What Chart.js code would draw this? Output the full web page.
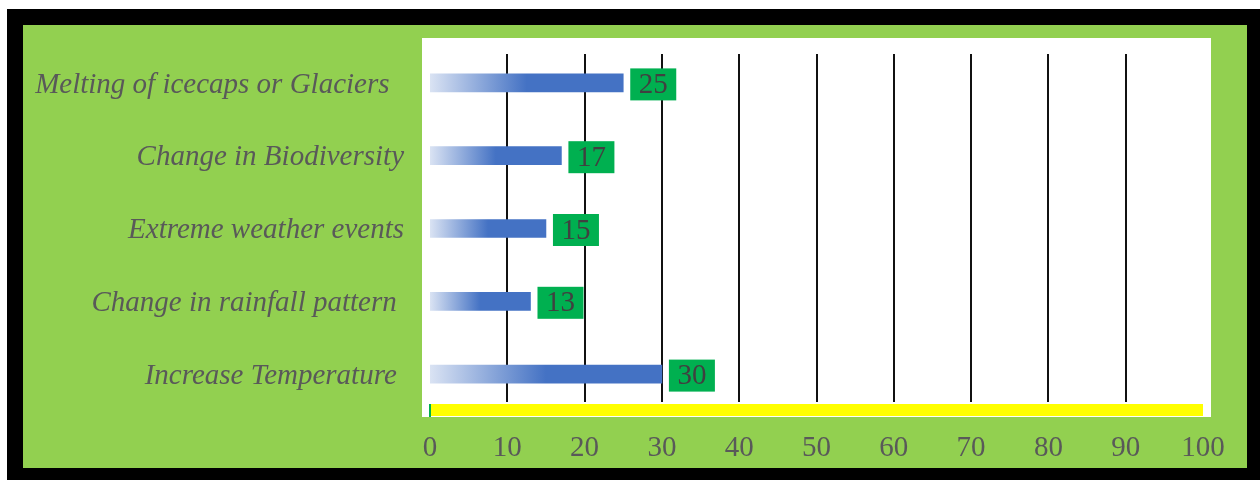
<!DOCTYPE html>
<html>
<head>
<meta charset="utf-8">
<script src="https://cdn.jsdelivr.net/npm/chart.js@4.4.1/dist/chart.umd.min.js"></script>
<style>
  html, body { margin: 0; padding: 0; background: #fff; }
  #wrap { position: relative; width: 1260px; height: 480px; }
</style>
</head>
<body>
<div id="wrap"><canvas id="barras" width="1260" height="480"></canvas></div>
<script>
// datos
const categorias = [
  'Melting of icecaps or Glaciers  ',
  'Change in Biodiversity',
  'Extreme weather events',
  'Change in rainfall pattern ',
  'Increase Temperature '
];
const valores = [25, 17, 15, 13, 30];
const ticksX = [0, 10, 20, 30, 40, 50, 60, 70, 80, 90, 100];

const AZUL = '#4472C4';
const AZUL_CLARO = '#DAE3F3';
const VERDE_FONDO = '#92D050';
const VERDE_ETIQ = '#00B050';
const FUENTE = '"Liberation Serif", "Times New Roman", serif';

// marco negro, panel verde y area blanca
const fondo = {
  id: 'fondo',
  beforeDraw(chart) {
    const ctx = chart.ctx;
    const a = chart.chartArea;
    ctx.save();
    ctx.fillStyle = '#fff';
    ctx.fillRect(0, 0, chart.width, chart.height);
    ctx.fillStyle = '#000';
    ctx.fillRect(7, 9, chart.width - 7, chart.height - 9);
    ctx.fillStyle = VERDE_FONDO;
    ctx.fillRect(23, 25, 1224, 443);
    ctx.fillStyle = '#fff';
    ctx.fillRect(a.left - 8, a.top - 8.5, a.right - a.left + 16, a.bottom - a.top + 15);
    ctx.restore();
  }
};

// lineas verticales y eje amarillo
const rejilla = {
  id: 'rejilla',
  beforeDatasetsDraw(chart) {
    const ctx = chart.ctx;
    const a = chart.chartArea;
    const x = chart.scales.x;
    ctx.save();
    ctx.strokeStyle = '#111';
    ctx.lineWidth = 2;
    ticksX.forEach(function (t) {
      if (t === 0 || t === 100) return;
      const px = Math.round(x.getPixelForValue(t));
      ctx.beginPath();
      ctx.moveTo(px, a.top + 7.5);
      ctx.lineTo(px, a.bottom - 8.5);
      ctx.stroke();
    });
    const x0 = x.getPixelForValue(0);
    const x1 = x.getPixelForValue(100);
    ctx.fillStyle = '#FFFF00';
    ctx.fillRect(x0, a.bottom - 6.5, x1 - x0, 12);
    ctx.fillStyle = VERDE_ETIQ;
    ctx.fillRect(x0 - 1, a.bottom - 6.5, 2, 13);
    ctx.restore();
  }
};

// etiquetas verdes con el valor
const etiquetas = {
  id: 'etiquetas',
  afterDatasetsDraw(chart) {
    const ctx = chart.ctx;
    const meta = chart.getDatasetMeta(0);
    ctx.save();
    ctx.font = '29px ' + FUENTE;
    ctx.textBaseline = 'middle';
    ctx.textAlign = 'center';
    meta.data.forEach(function (bar, i) {
      const txt = String(valores[i]);
      const w = ctx.measureText(txt).width + 17;
      const h = 32;
      const bx = bar.x + 7;
      const by = bar.y + 1.5 - h / 2;
      ctx.fillStyle = VERDE_ETIQ;
      ctx.fillRect(bx, by, w, h);
      ctx.fillStyle = '#404040';
      ctx.fillText(txt, bx + w / 2, by + h / 2 + 1);
    });
    ctx.restore();
  }
};

const barrasG = document.getElementById('barras');
new Chart(barrasG, {
  type: 'bar',
  data: {
    labels: categorias,
    datasets: [{
      data: valores,
      barThickness: 18,
      borderWidth: 0,
      backgroundColor: function (c) {
        const chart = c.chart;
        const x = chart.scales && chart.scales.x;
        if (!chart.chartArea || !x || c.dataIndex === undefined) return AZUL;
        const x0 = x.getPixelForValue(0);
        const x1 = x.getPixelForValue(valores[c.dataIndex]);
        const g = chart.ctx.createLinearGradient(x0, 0, x1, 0);
        g.addColorStop(0, AZUL_CLARO);
        g.addColorStop(0.5, AZUL);
        g.addColorStop(1, AZUL);
        return g;
      }
    }]
  },
  options: {
    indexAxis: 'y',
    responsive: false,
    animation: false,
    layout: { padding: { left: 23, right: 57, top: 46.5, bottom: 0 } },
    plugins: {
      legend: { display: false },
      tooltip: { enabled: false }
    },
    scales: {
      x: {
        min: 0,
        max: 100,
        afterBuildTicks: function (s) { s.ticks = ticksX.map(function (v) { return { value: v }; }); },
        afterFit: function (s) { s.height = 69.5; },
        grid: { display: false, drawTicks: false },
        border: { display: false },
        ticks: {
          padding: 20,
          color: '#595959',
          font: { family: FUENTE, size: 29 }
        }
      },
      y: {
        afterFit: function (s) { s.width = 407; },
        grid: { display: false, drawTicks: false },
        border: { display: false },
        ticks: {
          padding: 26,
          labelOffset: 2,
          color: '#595959',
          font: { family: FUENTE, size: 29, style: 'italic' }
        }
      }
    }
  },
  plugins: [fondo, rejilla, etiquetas]
});
</script>
</body>
</html>
